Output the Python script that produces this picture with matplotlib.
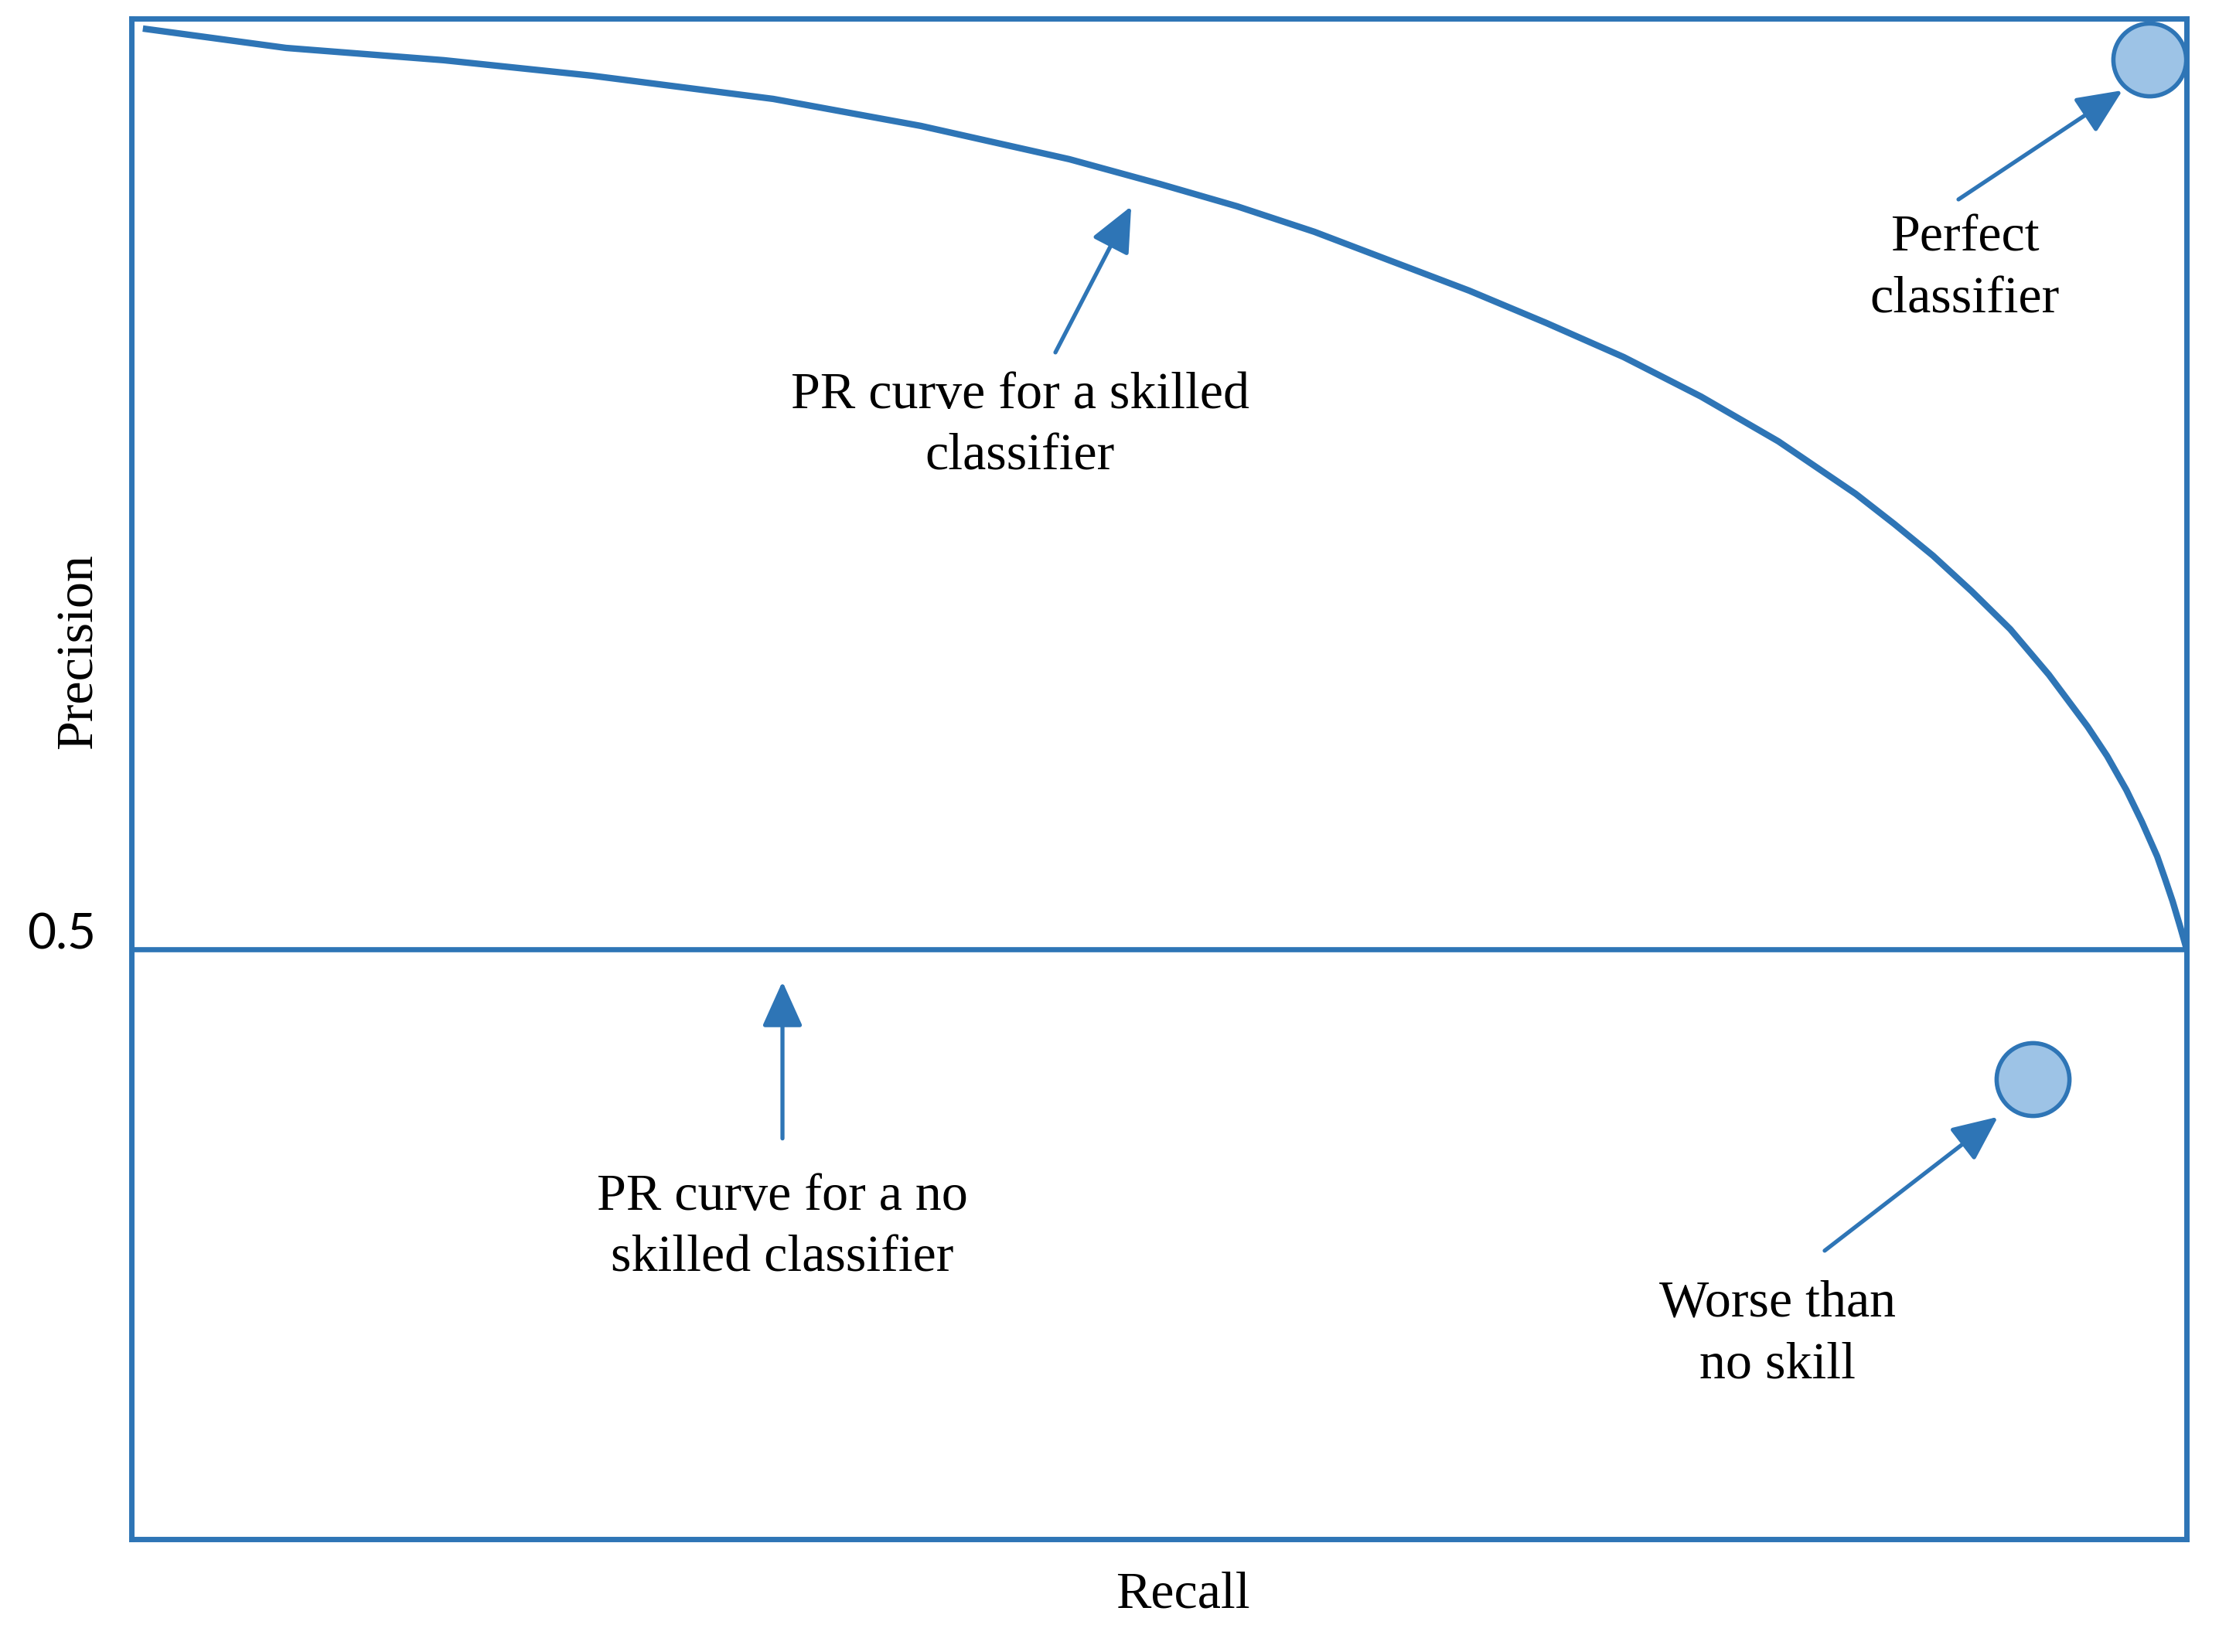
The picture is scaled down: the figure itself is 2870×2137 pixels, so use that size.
import matplotlib.pyplot as plt

# PR curve of the skilled classifier
recall = [0.0056, 0.0752, 0.152, 0.2239, 0.3123, 0.3841, 0.4564, 0.5004,
          0.538, 0.5756, 0.6132, 0.6509, 0.6885, 0.7261, 0.7637, 0.8014,
          0.839, 0.8578, 0.8766, 0.8954, 0.9142, 0.933, 0.9518, 0.9613,
          0.9707, 0.9782, 0.9857, 0.9895, 0.9932, 0.997, 1.0]
precision = [0.9946, 0.9842, 0.9776, 0.9693, 0.9568, 0.9423, 0.9244, 0.9111,
             0.8991, 0.8854, 0.8696, 0.8538, 0.8364, 0.8181, 0.7969, 0.7728,
             0.7446, 0.7284, 0.7114, 0.6923, 0.6719, 0.6474, 0.6196, 0.6038,
             0.5855, 0.5685, 0.5498, 0.5378, 0.5257, 0.5116, 0.5]

no_skill = 0.5
perfect_pt = (0.982, 0.978)
worse_pt = (0.925, 0.430)

# annotation texts, anchor (last-line baseline), arrow tail, arrow tip
notes = ["PR curve for a skilled\nclassifier", "Perfect\nclassifier",
         "PR curve for a no\nskilled classifier", "Worse than\nno skill"]
note_xy = [(0.4323, 0.7575), (0.892, 0.8418), (0.3168, 0.3268), (0.801, 0.2695)]
arrow_from = [(0.4496, 0.8206), (0.889, 0.9028), (0.3168, 0.3983), (0.8239, 0.338)]
arrow_to = [(0.4865, 0.8991), (0.9688, 0.9614), (0.3168, 0.4826), (0.9082, 0.4099)]

blue = "#2E75B6"
light = "#9DC3E6"

fig = plt.figure(figsize=(28.7, 21.37), dpi=100)
ax = fig.add_axes([0.0592, 0.0683, 0.9262, 0.9205])

ax.plot(recall, precision, color=blue, lw=6, solid_capstyle="butt",
        solid_joinstyle="round")
ax.axhline(no_skill, color=blue, lw=4.8)

for pt in (perfect_pt, worse_pt):
    ax.scatter([pt[0]], [pt[1]], s=4600, marker="o", facecolor=light,
               edgecolor=blue, linewidth=4, zorder=3, clip_on=False)

for txt, xy, a, b in zip(notes, note_xy, arrow_from, arrow_to):
    ax.text(xy[0], xy[1], txt, ha="center", va="baseline", multialignment="center",
            fontsize=49, family="Liberation Serif", linespacing=1.41)
    ax.annotate("", xy=b, xytext=a,
                arrowprops=dict(arrowstyle="-|>,head_length=0.4,head_width=0.18",
                                mutation_scale=90, color=blue, lw=3.8,
                                shrinkA=0, shrinkB=0))

ax.set_xlim(0, 1)
ax.set_ylim(0.183, 1.0)
ax.set_xticks([])
ax.set_yticks([no_skill])
ax.set_yticklabels(["0.5"], fontsize=46, family="Lato")
ax.tick_params(axis="y", length=0, pad=33)
for lab in ax.get_yticklabels():
    lab.set_va("baseline")

for sp in ax.spines.values():
    sp.set_color(blue)
    sp.set_linewidth(5)
    sp.set_zorder(4)

ax.set_xlabel("Recall", fontsize=49, family="Liberation Serif")
ax.xaxis.set_label_coords(0.5117, -0.021)
ax.set_ylabel("Precision", fontsize=49, family="Liberation Serif")
ax.yaxis.set_label_coords(-0.014, 0.584)

fig.savefig("out.png", dpi=100)
